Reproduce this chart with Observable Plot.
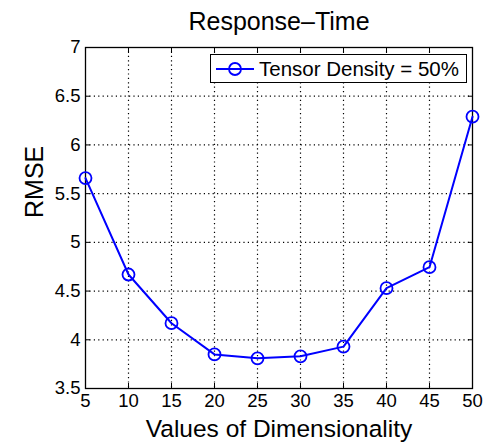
<!DOCTYPE html>
<html>
<head>
<meta charset="utf-8">
<script src="https://cdn.jsdelivr.net/npm/d3@7"></script>
<script src="https://cdn.jsdelivr.net/npm/@observablehq/plot@0.6"></script>
<style>
  body { margin: 0; background: #fff; }
  #wrap { position: relative; width: 485px; height: 443px; font-family: "Liberation Sans", Arial, sans-serif; }
  #legend { position: absolute; left: 210px; top: 54px; width: 257px; height: 29px; border: 1.3px solid #000; background: #fff; box-sizing: border-box; display: flex; align-items: center; font-size: 20.5px; color: #000; }
  #legend svg { margin-left: 4px; margin-right: 4px; }
</style>
</head>
<body>
<div id="wrap"></div>
<script>
const dims = [5, 10, 15, 20, 25, 30, 35, 40, 45, 50];
const rmse = [5.66, 4.67, 4.17, 3.85, 3.81, 3.83, 3.93, 4.53, 4.745, 6.29];
const xTicks = [5, 10, 15, 20, 25, 30, 35, 40, 45, 50];
const yTicks = [3.5, 4, 4.5, 5, 5.5, 6, 6.5, 7];
const titleText = "Response–Time";
const xLabel = "Values of Dimensionality";
const yLabel = "RMSE";
const seriesName = "Tensor Density = 50%";

const data = dims.map((d, i) => ({x: d, y: rmse[i]}));
const font = "Liberation Sans, Arial, sans-serif";

const chart = Plot.plot({
  width: 485,
  height: 443,
  marginLeft: 85,
  marginRight: 13,
  marginTop: 47,
  marginBottom: 55,
  style: {fontFamily: font, background: "#fff", color: "#000"},
  x: {domain: [5, 50]},
  y: {domain: [3.5, 7]},
  marks: [
    Plot.ruleX(xTicks.slice(1, -1), {stroke: "#000", strokeWidth: 1.2, strokeDasharray: "1.2,3.2"}),
    Plot.ruleY(yTicks.slice(1, -1), {stroke: "#000", strokeWidth: 1.2, strokeDasharray: "1.2,3.2"}),
    Plot.axisX({anchor: "bottom", ticks: xTicks, tickSize: -5, tickPadding: 10, fontSize: 18.5, stroke: "#000", tickFormat: d => String(d), label: null}),
    Plot.axisX({anchor: "top", ticks: xTicks, tickSize: -5, tickFormat: () => "", label: null}),
    Plot.axisY({anchor: "left", ticks: yTicks, tickSize: -5, tickPadding: 10, fontSize: 18.5, tickFormat: d => String(d), label: null}),
    Plot.axisY({anchor: "right", ticks: yTicks, tickSize: -5, tickFormat: () => "", label: null}),
    Plot.frame({stroke: "#000", strokeWidth: 1.3}),
    Plot.line(data, {x: "x", y: "y", stroke: "#0000ff", strokeWidth: 2}),
    Plot.dot(data, {x: "x", y: "y", r: 6, stroke: "#0000ff", strokeWidth: 1.8, fill: "none"}),
    Plot.text([titleText], {frameAnchor: "top", lineAnchor: "bottom", dy: -18, fontSize: 25, fill: "#000"}),
    Plot.text([xLabel], {frameAnchor: "bottom", lineAnchor: "bottom", dy: 48, fontSize: 24.5, fill: "#000"}),
    Plot.text([yLabel], {frameAnchor: "left", lineAnchor: "bottom", rotate: -90, dx: -43, fontSize: 25, fill: "#000"})
  ]
});

const wrap = document.getElementById("wrap");
wrap.appendChild(chart);

const legend = document.createElement("div");
legend.id = "legend";
legend.innerHTML = `<svg width="40" height="16"><line x1="1" y1="8" x2="39" y2="8" stroke="#0000ff" stroke-width="2"/><circle cx="20" cy="8" r="6" stroke="#0000ff" stroke-width="1.8" fill="none"/></svg><span>${seriesName}</span>`;
wrap.appendChild(legend);
</script>
</body>
</html>
